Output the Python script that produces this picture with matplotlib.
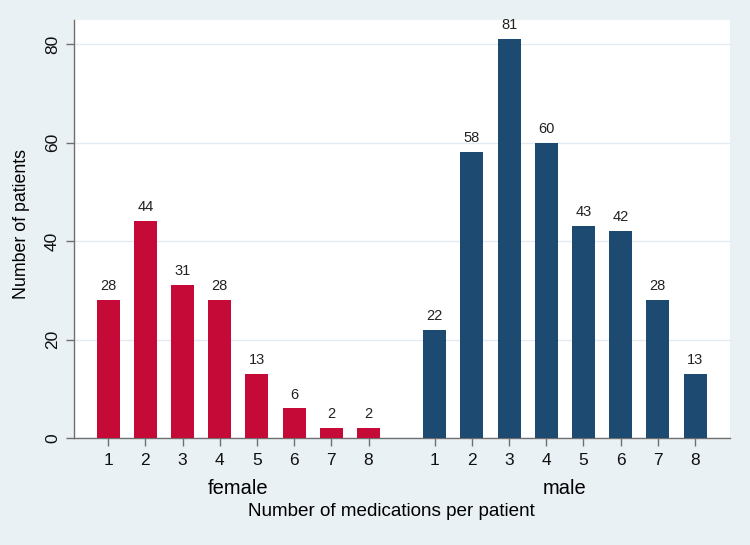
import matplotlib
matplotlib.use("Agg")
import matplotlib.pyplot as plt
import numpy as np

plt.rcParams['font.family'] = ['Liberation Sans', 'DejaVu Sans']

groups = ["female", "male"]
medications = ["1", "2", "3", "4", "5", "6", "7", "8"]
female_counts = [28, 44, 31, 28, 13, 6, 2, 2]
male_counts = [22, 58, 81, 60, 43, 42, 28, 13]
y_ticks = [0, 20, 40, 60, 80]

red = "#c60a37"
navy = "#1c4a70"
bg = "#e9f1f5"

fig = plt.figure(figsize=(7.5, 5.45), dpi=100)
fig.patch.set_facecolor(bg)
W, H = 750, 545
left, right, top, bottom = 74, 730, 20, 438
ax = fig.add_axes([left / W, 1 - bottom / H, (right - left) / W, (bottom - top) / H])
ax.set_facecolor("white")

gap = 1.78
xf = np.arange(len(female_counts))
xm = np.arange(len(male_counts)) + len(female_counts) - 1 + gap
width = 0.62

for xs, vals, col in [(xf, female_counts, red), (xm, male_counts, navy)]:
    bars = ax.bar(xs, vals, width=width, color=col, zorder=3)
    for b, v in zip(bars, vals):
        ax.annotate(str(v), (b.get_x() + b.get_width() / 2, v), xytext=(0, 5),
                    textcoords="offset points", ha="center", va="bottom",
                    fontsize=10.5, color="#222222")

ax.set_xlim(xf[0] - 0.92, xm[-1] + 0.94)
ax.set_ylim(0, 84.9)
ax.set_yticks(y_ticks)
ax.set_yticklabels([str(t) for t in y_ticks], rotation=90, va="center", fontsize=12.5)
ax.set_xticks(np.concatenate([xf, xm]))
ax.set_xticklabels(medications + medications, fontsize=12.5)
ax.grid(axis="y", color="#e3ebf0", linewidth=1.0, zorder=0)
for s in ["top", "right"]:
    ax.spines[s].set_visible(False)
for s in ["left", "bottom"]:
    ax.spines[s].set_color("#6f6f6f")
    ax.spines[s].set_linewidth(1.0)
ax.tick_params(axis="both", color="#6f6f6f", length=6, width=1, colors="#6f6f6f",
               labelcolor="#111111")
ax.tick_params(axis="x", pad=5)
ax.tick_params(axis="y", pad=4)

# group labels
for xs, name in [(xf, groups[0]), (xm, groups[1])]:
    cx = (xs[0] + xs[-1]) / 2
    ax.annotate(name, (cx, 0), xycoords=("data", "axes fraction"), xytext=(0, -50),
                textcoords="offset pixels", ha="center", va="center", fontsize=14.5)

fig.text(391 / W, 1 - 512 / H, "Number of medications per patient", ha="center",
         va="center", fontsize=13.6)
fig.text(22 / W, 1 - 224 / H, "Number of patients", rotation=90, ha="center",
         va="center", fontsize=12.8)

fig.savefig("out.png", dpi=100, facecolor=bg)
